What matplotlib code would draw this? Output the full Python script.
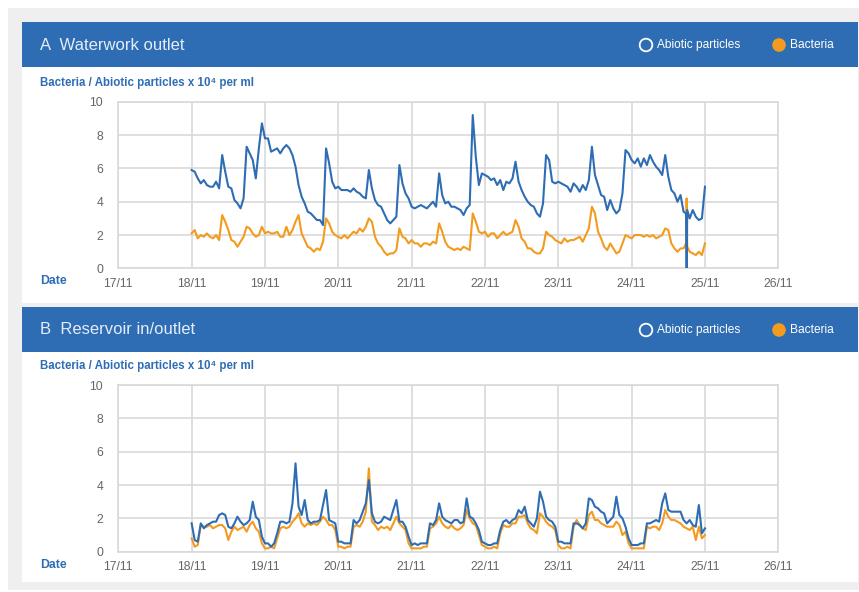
import matplotlib
matplotlib.use("Agg")
import matplotlib.pyplot as plt
from matplotlib.patches import Rectangle, Circle

plt.rcParams["font.family"] = ["Liberation Sans", "DejaVu Sans"]

BLUE = "#2e6db4"
ORANGE = "#f39b1f"
GRID = "#d9d9d9"

DATE_LABELS = ["17/11", "18/11", "19/11", "20/11", "21/11", "22/11", "23/11", "24/11", "25/11", "26/11"]
Y_TICKS = [0, 2, 4, 6, 8, 10]

# hours since 18/11 00:00
HOURS_A = [*range(0, 162), 161.8, 162, 162.2, *range(163, 169)]
HOURS_B = list(range(0, 169))

# A - waterwork outlet, x 10^4 per ml
ABIOTIC_A = [
    5.9, 5.8, 5.4, 5.1, 5.3, 5.0, 4.9, 4.9, 5.2, 4.8, 6.8, 5.8, 4.9, 4.8, 4.1, 3.9,
    3.6, 4.2, 7.3, 6.9, 6.5, 5.4, 7.2, 8.7, 7.8, 7.8, 7.0, 7.1, 7.2, 6.9, 7.2, 7.4,
    7.2, 6.8, 6.1, 5.0, 4.3, 3.9, 3.4, 3.3, 3.1, 2.9, 2.9, 2.6, 7.2, 6.3, 5.2, 4.8,
    4.9, 4.7, 4.7, 4.7, 4.6, 4.8, 4.6, 4.5, 4.3, 4.2, 5.9, 4.8, 4.1, 3.8, 3.7, 3.3,
    2.9, 2.7, 2.9, 3.1, 6.2, 5.1, 4.5, 4.2, 3.7, 3.6, 3.7, 3.8, 3.7, 3.6, 3.8, 4.0,
    3.7, 5.7, 4.4, 3.9, 4.0, 3.7, 3.7, 3.6, 3.5, 3.2, 3.6, 3.8, 9.2, 6.7, 5.0, 5.7,
    5.6, 5.5, 5.3, 5.4, 5.0, 5.3, 4.7, 5.2, 5.1, 5.4, 6.4, 5.2, 4.7, 4.3, 4.0, 3.8,
    3.7, 3.3, 3.1, 3.9, 6.8, 6.5, 5.2, 5.1, 5.2, 5.1, 5.0, 4.9, 4.6, 5.1, 4.9, 4.6,
    5.0, 4.7, 5.3, 7.3, 5.6, 5.0, 4.4, 4.3, 3.5, 4.1, 3.6, 3.3, 3.5, 4.5, 7.1, 6.9,
    6.5, 6.3, 6.6, 6.1, 6.6, 6.2, 6.8, 6.4, 6.1, 5.9, 5.6, 6.8, 5.5, 4.7, 4.5, 4.0,
    4.4, 3.4, 3.3, 0.0, 3.5, 3.0, 3.5, 3.1, 2.9, 3.0, 4.9,
]
BACTERIA_A = [
    2.1, 2.3, 1.8, 2.0, 1.9, 2.1, 1.9, 1.8, 2.0, 1.7, 3.2, 2.8, 2.3, 1.7, 1.6, 1.3,
    1.6, 1.9, 2.5, 2.4, 2.1, 1.9, 2.0, 2.5, 2.1, 2.2, 2.1, 2.1, 2.2, 1.9, 1.9, 2.5,
    2.0, 2.3, 2.8, 3.2, 2.1, 1.7, 1.3, 1.2, 1.0, 1.2, 1.1, 1.6, 3.0, 2.7, 2.2, 2.0,
    1.9, 1.8, 2.0, 1.8, 2.0, 2.2, 2.1, 2.4, 2.2, 2.5, 3.0, 2.8, 1.9, 1.5, 1.3, 1.0,
    0.8, 0.9, 0.9, 1.1, 2.4, 1.9, 1.8, 1.5, 1.7, 1.5, 1.5, 1.3, 1.5, 1.5, 1.4, 1.6,
    1.5, 2.7, 2.2, 1.6, 1.3, 1.2, 1.1, 1.2, 1.1, 1.3, 1.2, 1.1, 3.3, 2.8, 2.2, 2.1,
    2.2, 1.9, 2.1, 2.1, 1.8, 2.0, 2.2, 2.0, 2.1, 2.2, 2.9, 2.5, 1.8, 1.6, 1.2, 1.2,
    1.0, 0.9, 0.9, 1.2, 2.2, 2.0, 1.9, 1.7, 1.6, 1.5, 1.8, 1.6, 1.7, 1.7, 1.8, 1.9,
    1.6, 2.0, 2.4, 3.7, 3.3, 2.2, 1.8, 1.3, 1.1, 1.5, 1.2, 0.9, 1.0, 1.5, 2.0, 1.9,
    1.8, 2.0, 2.0, 2.0, 1.9, 2.0, 1.9, 2.0, 1.8, 1.9, 2.0, 2.4, 2.3, 1.5, 1.2, 1.0,
    1.2, 1.2, 1.5, 4.2, 1.3, 1.0, 0.9, 0.8, 1.0, 0.8, 1.5,
]

# B - reservoir in/outlet
ABIOTIC_B = [
    1.7, 0.7, 0.6, 1.7, 1.4, 1.6, 1.7, 1.8, 1.8, 2.2, 2.3, 2.2, 1.5, 1.4, 1.7, 2.1,
    1.8, 1.6, 1.7, 1.9, 3.0, 2.1, 1.9, 0.9, 0.5, 0.5, 0.3, 0.5, 1.1, 1.8, 1.8, 1.7,
    1.8, 2.9, 5.3, 2.7, 2.2, 3.1, 1.9, 1.7, 1.8, 1.8, 1.9, 2.8, 3.7, 1.9, 1.8, 1.7,
    0.6, 0.6, 0.5, 0.5, 0.5, 1.9, 1.7, 1.9, 2.4, 2.9, 4.3, 2.3, 1.8, 1.7, 1.8, 2.1,
    2.0, 1.9, 2.5, 3.1, 1.8, 1.8, 1.5, 0.9, 0.4, 0.5, 0.4, 0.5, 0.5, 0.5, 1.7, 1.6,
    1.9, 2.9, 2.1, 1.9, 1.8, 1.7, 1.9, 1.9, 1.7, 1.8, 3.2, 2.1, 2.0, 1.7, 1.3, 0.6,
    0.5, 0.4, 0.4, 0.5, 0.5, 1.3, 1.8, 1.9, 1.7, 1.9, 2.0, 2.5, 2.3, 2.7, 1.9, 1.7,
    1.5, 2.0, 3.6, 3.0, 2.1, 1.9, 1.8, 1.5, 0.6, 0.6, 0.5, 0.5, 0.5, 1.7, 1.7, 1.6,
    1.4, 1.7, 3.2, 3.1, 2.7, 2.6, 2.4, 2.3, 1.7, 1.9, 2.1, 3.3, 2.2, 2.0, 1.5, 0.8,
    0.4, 0.4, 0.4, 0.5, 0.5, 1.7, 1.7, 1.8, 1.9, 1.8, 2.9, 3.5, 2.5, 2.4, 2.4, 2.4,
    2.4, 1.9, 1.7, 1.9, 1.6, 1.5, 2.8, 1.1, 1.4,
]
BACTERIA_B = [
    0.8, 0.3, 0.4, 1.6, 1.5, 1.5, 1.6, 1.4, 1.5, 1.6, 1.6, 1.4, 0.7, 1.2, 1.5, 1.3,
    1.4, 1.5, 1.2, 1.6, 1.8, 1.4, 1.2, 0.5, 0.2, 0.2, 0.3, 0.2, 0.8, 1.4, 1.5, 1.4,
    1.5, 1.8, 2.0, 2.3, 1.7, 1.5, 1.7, 1.6, 1.7, 1.6, 1.8, 2.1, 1.9, 1.6, 1.6, 1.3,
    0.3, 0.3, 0.2, 0.3, 0.3, 1.5, 1.6, 1.5, 1.8, 2.4, 5.0, 1.8, 1.6, 1.3, 1.5, 1.4,
    1.5, 1.3, 1.7, 2.1, 1.7, 1.5, 1.3, 0.5, 0.2, 0.2, 0.2, 0.2, 0.3, 0.3, 1.4, 1.5,
    1.7, 2.1, 1.7, 1.5, 1.4, 1.6, 1.4, 1.3, 1.4, 1.6, 2.5, 2.0, 1.7, 1.6, 1.0, 0.4,
    0.3, 0.2, 0.2, 0.3, 0.2, 1.1, 1.6, 1.5, 1.5, 1.7, 1.7, 2.1, 2.1, 2.2, 1.7, 1.4,
    1.3, 1.1, 2.3, 2.1, 1.8, 1.6, 1.5, 1.3, 0.4, 0.2, 0.2, 0.3, 0.2, 1.5, 1.9, 1.6,
    1.4, 1.3, 2.2, 2.4, 1.9, 1.9, 1.7, 1.6, 1.5, 1.5, 1.5, 1.8, 1.6, 1.0, 1.2, 0.5,
    0.2, 0.2, 0.2, 0.2, 0.2, 1.5, 1.4, 1.5, 1.5, 1.3, 1.7, 2.5, 2.1, 1.9, 1.9, 1.8,
    1.7, 1.5, 1.4, 1.3, 1.5, 0.7, 1.5, 0.8, 1.0,
]

PANELS = [
    ("A  Waterwork outlet", HOURS_A, ABIOTIC_A, BACTERIA_A),
    ("B  Reservoir in/outlet", HOURS_B, ABIOTIC_B, BACTERIA_B),
]

W, H = 859, 592
fig = plt.figure(figsize=(W / 100, H / 100), dpi=100)
fig.patch.set_facecolor("white")

# background canvas in pixel coordinates (y down)
bg = fig.add_axes([0, 0, 1, 1], zorder=-5)
bg.set_xlim(0, W)
bg.set_ylim(H, 0)
bg.axis("off")
bg.add_patch(Rectangle((8, 8), W - 8, 582, color="#efefef", lw=0))

panel_top = [22, 307]
panel_bottom = [303, 582]
plot_top = [101.7, 385.0]
plot_h = 166.7
plot_left, plot_w = 118.3, 660.0

for i, (title, hours, abiotic, bacteria) in enumerate(PANELS):
    top = panel_top[i]
    bg.add_patch(Rectangle((22, top), 836, panel_bottom[i] - top, color="white", lw=0))
    bg.add_patch(Rectangle((22, top), 836, 44.5, color=BLUE, lw=0))
    hy = top + 23
    bg.text(40, hy, title, color="#e4edf8", fontsize=12, va="center", ha="left")
    bg.add_patch(Circle((646, hy), 6.3, facecolor="none", edgecolor="white", lw=1.3))
    bg.text(657, hy, "Abiotic particles", color="white", fontsize=8.6, va="center")
    bg.add_patch(Circle((779, hy), 6.8, facecolor=ORANGE, edgecolor="none"))
    bg.text(790, hy, "Bacteria", color="white", fontsize=8.6, va="center")
    bg.text(40, plot_top[i] - 19, "Bacteria / Abiotic particles x 10\u2074 per ml",
            color=BLUE, fontsize=8.3, fontweight="bold", va="center")
    bg.text(40, plot_top[i] + plot_h + 13, "Date", color=BLUE, fontsize=8.8,
            fontweight="bold", va="center")

    ax = fig.add_axes([plot_left / W, 1 - (plot_top[i] + plot_h) / H,
                       plot_w / W, plot_h / H])
    x = [1 + h / 24 for h in hours]
    ax.plot(x, bacteria, color=ORANGE, lw=1.5, zorder=3)
    ax.plot(x, abiotic, color=BLUE, lw=1.5, zorder=4)
    ax.set_xlim(0, 9)
    ax.set_ylim(0, 10)
    ax.set_xticks(range(len(DATE_LABELS)))
    ax.set_xticklabels(DATE_LABELS)
    ax.set_yticks(Y_TICKS)
    ax.tick_params(length=0, labelsize=8.8, labelcolor="#666666")
    ax.tick_params(axis="y", pad=11)
    ax.tick_params(axis="x", pad=7)
    ax.grid(True, color=GRID, lw=1.2)
    ax.set_axisbelow(True)
    for s in ax.spines.values():
        s.set_color(GRID)
        s.set_linewidth(1.2)

fig.savefig("out.png", dpi=100)
